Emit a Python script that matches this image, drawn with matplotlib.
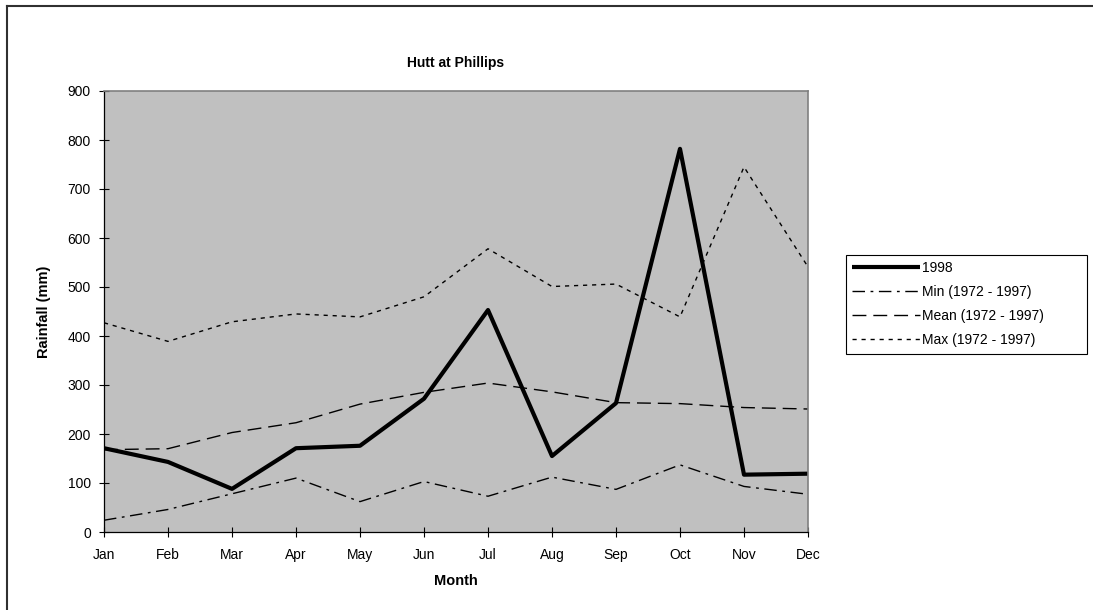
import matplotlib
matplotlib.use("Agg")
import matplotlib.pyplot as plt
from matplotlib.lines import Line2D

months = ["Jan", "Feb", "Mar", "Apr", "May", "Jun",
          "Jul", "Aug", "Sep", "Oct", "Nov", "Dec"]
rain_1998 = [171, 143, 88, 171, 176, 272, 453, 155, 263, 782, 117, 119]
rain_min = [24, 46, 78, 110, 62, 103, 73, 112, 87, 137, 93, 77]
rain_mean = [168, 170, 203, 223, 261, 285, 304, 286, 264, 262, 254, 251]
rain_max = [427, 389, 429, 445, 439, 480, 578, 501, 506, 439, 745, 541]

plt.rcParams["font.family"] = ["Liberation Sans", "DejaVu Sans"]

W, H = 1093, 610
fig = plt.figure(figsize=(W / 100, H / 100), dpi=100)
ax = fig.add_axes([104 / W, 1 - 532 / H, (808 - 104) / W, (532 - 91) / H])
ax.set_facecolor("#c0c0c0")

x = list(range(len(months)))
ax.plot(x, rain_1998, color="black", lw=3, label="1998", solid_capstyle="butt")
ax.plot(x, rain_min, color="black", lw=1, dashes=(9, 4, 2, 4), label="Min (1972 - 1997)")
ax.plot(x, rain_mean, color="black", lw=1, dashes=(10, 5), label="Mean (1972 - 1997)")
ax.plot(x, rain_max, color="black", lw=1, dashes=(3, 3.5), label="Max (1972 - 1997)")

ax.set_xlim(0, 11)
ax.set_ylim(0, 900)
ax.set_yticks(range(0, 901, 100))
ax.set_xticks(x)
ax.set_xticklabels(months)
ax.tick_params(axis="both", direction="inout", length=7, width=0.8, labelsize=10)
ax.tick_params(axis="x", pad=8)
ax.tick_params(axis="y", pad=6)

for side in ("left", "bottom"):
    ax.spines[side].set_color("black")
    ax.spines[side].set_linewidth(0.9)
for side in ("top", "right"):
    ax.spines[side].set_color("#808080")
    ax.spines[side].set_linewidth(1.2)

ax.set_title("Hutt at Phillips", fontsize=10, fontweight="bold", pad=17)
ax.set_xlabel("Month", fontsize=10.5, fontweight="bold", labelpad=9)
ax.set_ylabel("Rainfall (mm)", fontsize=10.5, fontweight="bold", labelpad=12)

leg = ax.legend(loc="upper left",
                bbox_to_anchor=(846 / W, 1 - 353 / H, (1087 - 846) / W, (353 - 255) / H),
                bbox_transform=fig.transFigure, borderaxespad=0, mode="expand",
                fontsize=10, handlelength=4.9, handletextpad=0.15,
                labelspacing=0.72, borderpad=0.45, fancybox=False,
                framealpha=1, edgecolor="black")
leg.get_frame().set_linewidth(0.8)

# outer chart border (top and left edges visible)
fig.add_artist(Line2D([7 / W, 1], [1 - 6 / H, 1 - 6 / H], transform=fig.transFigure,
                      color="#303030", lw=1.5))
fig.add_artist(Line2D([7 / W, 7 / W], [0, 1 - 6 / H], transform=fig.transFigure,
                      color="#303030", lw=1.5))

fig.savefig("out.png", dpi=100)
